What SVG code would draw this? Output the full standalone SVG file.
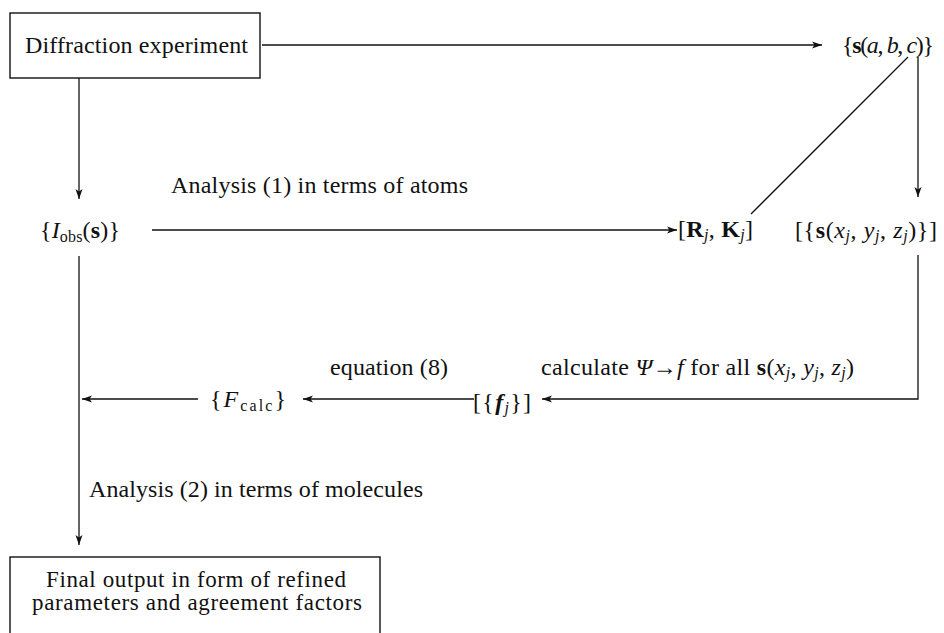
<svg xmlns="http://www.w3.org/2000/svg" width="944" height="633" viewBox="0 0 944 633">
<style>
text{font-family:"Liberation Serif","Times New Roman",serif;font-size:24px;fill:#111}
.b{font-weight:bold}
.i{font-style:italic}
.sub{font-size:16px}
.box{fill:#fff;stroke:#111;stroke-width:1.4}
.ln{fill:none;stroke:#111;stroke-width:1.3}
.fo{font-size:23px}
</style>
<defs>
<marker id="ah" viewBox="0 0 10 8" refX="10" refY="4" markerWidth="10" markerHeight="8" markerUnits="userSpaceOnUse" orient="auto">
<path d="M0,0.5 L10,4 L0,7.5 L2.5,4 Z" fill="#111"/>
</marker>
</defs>
<rect width="944" height="633" fill="#fff"/>

<g id="connectors">
<path class="ln" d="M262,45 H822" marker-end="url(#ah)"/>
<path class="ln" d="M79,78 V199" marker-end="url(#ah)"/>
<path class="ln" d="M152,230 H677" marker-end="url(#ah)"/>
<path class="ln" d="M908,57 L751,214"/>
<path class="ln" d="M918,57 V197" marker-end="url(#ah)"/>
<path class="ln" d="M918,255 V399 H542" marker-end="url(#ah)"/>
<path class="ln" d="M474,399 H303" marker-end="url(#ah)"/>
<path class="ln" d="M198,399 H82" marker-end="url(#ah)"/>
<path class="ln" d="M79,256 V545" marker-end="url(#ah)"/>
</g>

<g id="diffraction">
<rect class="box" x="10" y="13" width="250" height="65"/>
<text x="25" y="53" textLength="223" lengthAdjust="spacing">Diffraction experiment</text>
</g>

<g id="sabc">
<text x="842" y="53" textLength="92" lengthAdjust="spacing">{<tspan class="b">s</tspan>(<tspan class="i">a</tspan>, <tspan class="i">b</tspan>, <tspan class="i">c</tspan>)}</text>
</g>

<g id="label-analysis1">
<text x="171" y="193" textLength="297" lengthAdjust="spacing">Analysis (1) in terms of atoms</text>
</g>

<g id="iobs">
<text x="40" y="238" textLength="80" lengthAdjust="spacing">{<tspan class="i">I</tspan><tspan class="sub" dy="4">obs</tspan><tspan dy="-4">(</tspan><tspan class="b">s</tspan>)}</text>
</g>

<g id="rk">
<text x="678" y="237" textLength="75" lengthAdjust="spacing">[<tspan class="b">R</tspan><tspan class="sub i" dy="3">j</tspan><tspan dy="-3">, </tspan><tspan class="b">K</tspan><tspan class="sub i" dy="3">j</tspan><tspan dy="-3">]</tspan></text>
</g>

<g id="sxyz">
<text x="795" y="238" textLength="142" lengthAdjust="spacing">[{<tspan class="b">s</tspan>(<tspan class="i">x</tspan><tspan class="sub i" dy="3">j</tspan><tspan dy="-3">, </tspan><tspan class="i">y</tspan><tspan class="sub i" dy="3">j</tspan><tspan dy="-3">, </tspan><tspan class="i">z</tspan><tspan class="sub i" dy="3">j</tspan><tspan dy="-3">)}]</tspan></text>
</g>

<g id="label-equation">
<text x="330" y="375" textLength="118" lengthAdjust="spacing">equation (8)</text>
</g>

<g id="label-calculate">
<text x="541" y="375" textLength="313" lengthAdjust="spacing">calculate <tspan class="i">Ψ</tspan>→<tspan class="i">f</tspan> for all <tspan class="b">s</tspan>(<tspan class="i">x</tspan><tspan class="sub i" dy="3">j</tspan><tspan dy="-3">, </tspan><tspan class="i">y</tspan><tspan class="sub i" dy="3">j</tspan><tspan dy="-3">, </tspan><tspan class="i">z</tspan><tspan class="sub i" dy="3">j</tspan><tspan dy="-3">)</tspan></text>
</g>

<g id="fj">
<text x="473" y="410" textLength="58" lengthAdjust="spacing">[{<tspan class="b i">f</tspan><tspan class="sub i" dy="3">j</tspan><tspan dy="-3">}]</tspan></text>
</g>

<g id="fcalc">
<text x="210" y="407" textLength="76" lengthAdjust="spacing">{<tspan class="i">F</tspan><tspan class="sub" dy="4">calc</tspan><tspan dy="-4">}</tspan></text>
</g>

<g id="label-analysis2">
<text x="89" y="497" textLength="334" lengthAdjust="spacing">Analysis (2) in terms of molecules</text>
</g>

<g id="final">
<rect class="box" x="10" y="557" width="370" height="90"/>
<text class="fo" x="46" y="587" textLength="300" lengthAdjust="spacing">Final output in form of refined</text>
<text class="fo" x="32" y="610" textLength="330" lengthAdjust="spacing">parameters and agreement factors</text>
</g>
</svg>
